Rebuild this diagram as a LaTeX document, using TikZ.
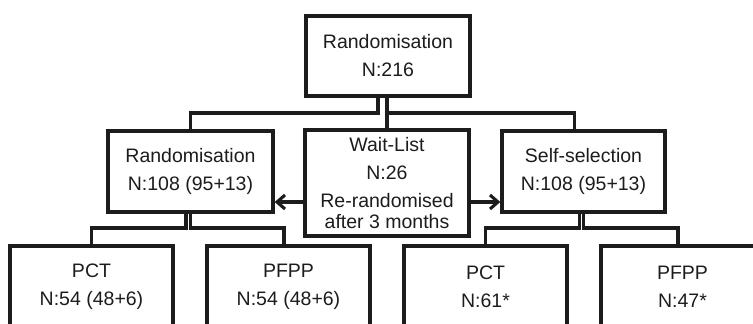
\documentclass[tikz,border=0pt]{standalone}
\usepackage{fontspec}
\setmainfont{Liberation Sans}
\usetikzlibrary{arrows.meta}
\definecolor{ink}{RGB}{28,28,28}
\begin{document}
\begin{tikzpicture}[x=1pt,y=-1pt,
  box/.style={draw=ink,line width=3.3pt,inner sep=0pt,align=center,text=ink,
    font=\fontsize{19.5}{28}\selectfont},
  conn/.style={draw=ink,line width=3.1pt},
  arr/.style={draw=ink,line width=3.1pt,-{Straight Barb[length=8pt,width=14pt]}}]
\useasboundingbox (0,0) rectangle (753,324);
\clip (0,0) rectangle (753,324);
\node[box,minimum width=164pt,minimum height=80pt] (top) at (388,56) {Randomisation\\N:216};
\node[box,minimum width=165pt,minimum height=81pt] (randL) at (190.5,171.5) {Randomisation\\N:108 (95+13)};
\node[box,minimum width=164pt,minimum height=106pt] (wait) at (387,183) {Wait-List\\N:26\\Re-randomised\\[-7pt]after 3 months};
\node[box,minimum width=163pt,minimum height=81pt] (self) at (583.5,171.5) {Self-selection\\N:108 (95+13)};
\node[box,minimum width=163pt,minimum height=82pt] (pct1) at (91.5,287) {PCT\\N:54 (48+6)};
\node[box,minimum width=163pt,minimum height=82pt] (pfpp1) at (288.5,287) {PFPP\\N:54 (48+6)};
\node[box,minimum width=163pt,minimum height=82pt] (pct2) at (485.5,287) {PCT\\N:61*};
\node[box,minimum width=163pt,minimum height=82pt] (pfpp2) at (682.5,287) {PFPP\\N:47*};
\coordinate (h1) at (0,113);
\coordinate (h2) at (0,228);
\coordinate (ar) at (0,202);
\coordinate (selfin) at ([xshift=-9pt]self.north);
\coordinate (pfpp1in) at ([xshift=-4.5pt]pfpp1.north);
\coordinate (pfpp2in) at ([xshift=-4.5pt]pfpp2.north);
% top level
\draw[conn] ([xshift=-10pt]top.south) |- (h1 -| randL.north) -- (randL.north);
\draw[conn] (wait.north |- top.south) -- (wait.north);
\draw[conn] (wait.north |- h1) -| (selfin);
% left branch
\draw[conn] ([xshift=-4.5pt]randL.south) |- (h2 -| pct1.north) -- (pct1.north);
\draw[conn] (randL.south) |- (h2 -| pfpp1in) -- (pfpp1in);
% right branch
\draw[conn] ([xshift=-4pt]self.south) |- (h2 -| pct2.north) -- (pct2.north);
\draw[conn] (self.south) |- (h2 -| pfpp2in) -- (pfpp2in);
% arrows
\draw[arr] (wait.west |- ar) -- (randL.east |- ar);
\draw[arr] (wait.east |- ar) -- (self.west |- ar);
\end{tikzpicture}
\end{document}
